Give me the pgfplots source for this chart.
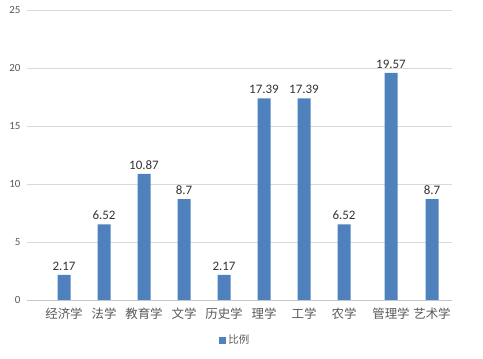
\documentclass[border=0pt]{standalone}
\usepackage{pgfplots}
\pgfplotsset{compat=1.18}
\usepackage{fontspec}
\setmainfont{Carlito}
\newfontfamily\cjk{Noto Sans CJK SC}
\definecolor{barblue}{HTML}{4F81BD}
\definecolor{ticklab}{HTML}{595959}
\definecolor{gridc}{HTML}{D9D9D9}
\begin{document}
\begin{tikzpicture}
\path[use as bounding box] (-27bp,-59bp) rectangle (456bp,300bp);
\begin{axis}[
  scale only axis,
  width=425bp, height=290bp,
  xmin=-0.925, xmax=9.7,
  ymin=0, ymax=25,
  ytick={0,5,10,15,20,25},
  xtick={0,1,2,3,4,5,6,7,8.175,9.2},
  xticklabels={经济学,法学,教育学,文学,历史学,理学,工学,农学,管理学,艺术学},
  xticklabel style={font=\cjk\fontsize{12.5}{12}\selectfont, text=ticklab, yshift=-4bp},
  yticklabel style={font=\fontsize{11}{12}\selectfont, text=ticklab, xshift=-3bp},
  /pgf/number format/assume math mode=true,
  major tick length=0pt,
  ymajorgrids,
  grid style={gridc, line width=0.8pt},
  axis x line*=bottom,
  axis y line*=left,
  y axis line style={draw=none},
  x axis line style={draw=gridc!80!gray, line width=0.8pt},
  legend style={at={(0.49,-0.138)}, anchor=center, draw=none, fill=none,
    font=\cjk\fontsize{10.5}{12}\selectfont\color{ticklab}, inner sep=0pt},
  legend image code/.code={\fill[barblue] (0bp,-3.5bp) rectangle (7bp,3.5bp);},
  nodes near coords,
  nodes near coords style={font=\fontsize{13}{13}\selectfont, text=black!80, yshift=1bp},
  point meta=explicit symbolic,
]
\addplot[ybar, bar width=13bp, fill=barblue, draw=none] coordinates {
  (0,2.17) [2.17]
  (1,6.52) [6.52]
  (2,10.87) [10.87]
  (3,8.7) [8.7]
  (4,2.17) [2.17]
  (5,17.39) [17.39]
  (6,17.39) [17.39]
  (7,6.52) [6.52]
  (8.175,19.57) [19.57]
  (9.2,8.7) [8.7]
};
\addlegendentry{比例}
\end{axis}
\end{tikzpicture}
\end{document}
